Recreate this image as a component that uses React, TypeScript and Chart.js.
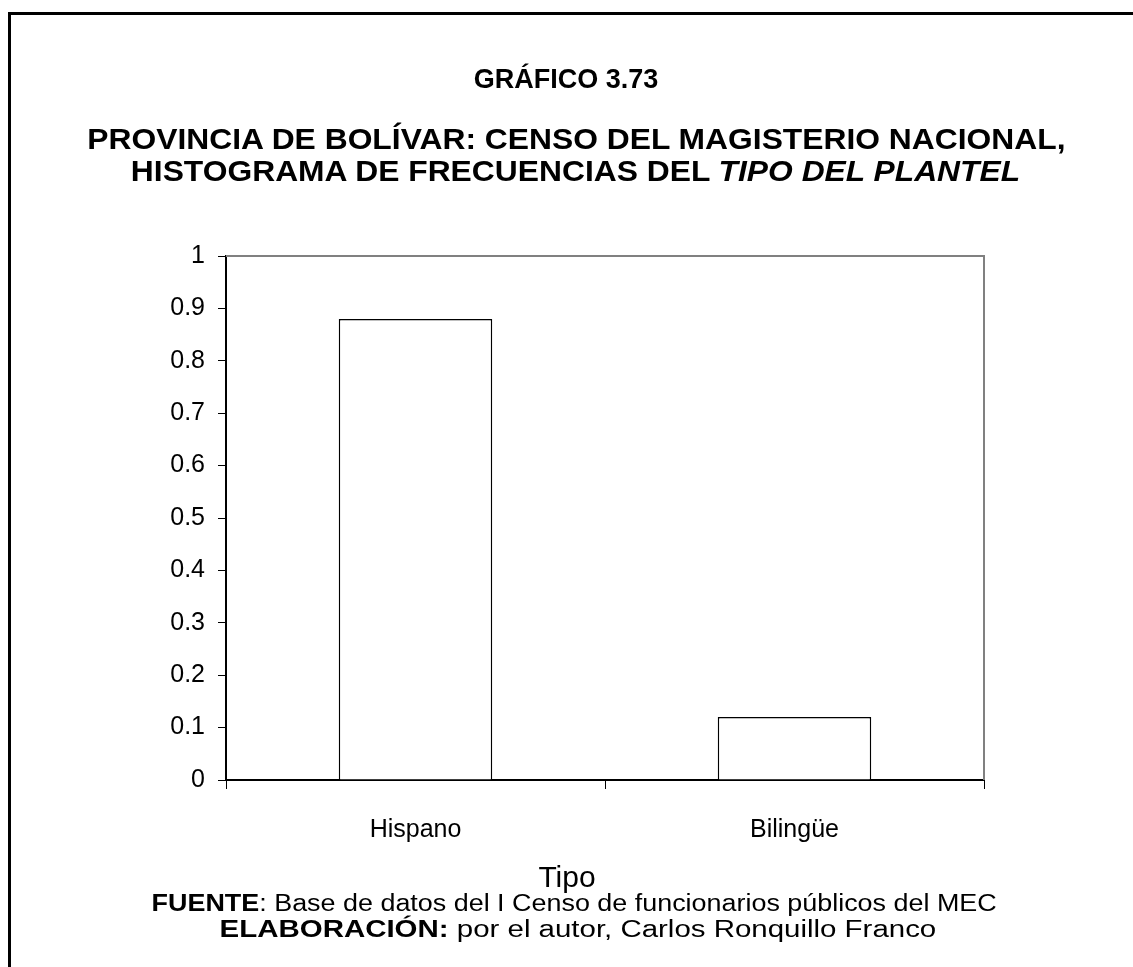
import React, { useEffect, useRef } from "react";
import { Chart, registerables } from "chart.js";

Chart.register(...registerables);

const categories: string[] = ["Hispano", "Bilingüe"];
const frequencies: number[] = [0.88, 0.12];
const yTickLabels: string[] = ["0", "0.1", "0.2", "0.3", "0.4", "0.5", "0.6", "0.7", "0.8", "0.9", "1"];
const xAxisTitle = "Tipo";
const titleLine1 = "GRÁFICO 3.73";
const titleLine2 = "PROVINCIA DE BOLÍVAR: CENSO DEL MAGISTERIO NACIONAL,";
const titleLine3a = "HISTOGRAMA DE FRECUENCIAS DEL ";
const titleLine3b = "TIPO DEL PLANTEL";

const FONT = "'Liberation Sans', Arial, Helvetica, sans-serif";

const W = 1133;
const H = 967;
const PLOT_LEFT = 226;
const PLOT_RIGHT = 984;
const PLOT_TOP = 256;
const PLOT_BOTTOM = 780;
const X_AXIS_H = 70;

const frameBorderPlugin = {
  id: "frameBorder",
  afterDatasetsDraw(chart: any) {
    const { ctx, chartArea } = chart;
    ctx.save();
    ctx.strokeStyle = "#808080";
    ctx.lineWidth = 2;
    ctx.beginPath();
    ctx.moveTo(chartArea.left, chartArea.top);
    ctx.lineTo(chartArea.right, chartArea.top);
    ctx.lineTo(chartArea.right, chartArea.bottom);
    ctx.stroke();
    ctx.restore();
  },
};

function TextLine(props: {
  center: number;
  cx?: number;
  size: number;
  scale: number;
  children: React.ReactNode;
  bold?: boolean;
}) {
  const { center, size, scale, children, bold } = props;
  const cx = props.cx ?? 575;
  return (
    <div
      style={{
        position: "absolute",
        left: cx - 600,
        width: 1200,
        top: center - size / 2,
        height: size,
        lineHeight: `${size}px`,
        fontSize: size,
        fontFamily: FONT,
        fontWeight: bold ? "bold" : "normal",
        textAlign: "center",
        whiteSpace: "nowrap",
        color: "#000",
      }}
    >
      <span style={{ display: "inline-block", transform: `scaleX(${scale})`, transformOrigin: "center" }}>{children}</span>
    </div>
  );
}

export default function App() {
  const canvasRef = useRef<HTMLCanvasElement | null>(null);

  useEffect(() => {
    if (!canvasRef.current) return;
    const chart = new Chart(canvasRef.current, {
      type: "bar",
      data: {
        labels: categories,
        datasets: [
          {
            data: frequencies,
            backgroundColor: "#ffffff",
            borderColor: "#000000",
            borderWidth: 1.5,
            categoryPercentage: 1,
            barPercentage: 0.405,
          },
        ],
      },
      options: {
        animation: false,
        responsive: false,
        maintainAspectRatio: false,
        events: [],
        layout: {
          padding: {
            left: 0,
            top: PLOT_TOP,
            right: W - PLOT_RIGHT,
            bottom: H - PLOT_BOTTOM - X_AXIS_H,
          },
        },
        plugins: {
          legend: { display: false },
          tooltip: { enabled: false },
          title: { display: false },
        },
        scales: {
          x: {
            type: "category",
            offset: true,
            grid: {
              offset: true,
              drawOnChartArea: false,
              drawTicks: true,
              tickLength: 9,
              color: "#000",
              lineWidth: 1,
            },
            border: { display: true, color: "#000", width: 2 },
            ticks: {
              color: "#000",
              font: { family: FONT, size: 25 },
              padding: 26,
              maxRotation: 0,
              autoSkip: false,
            },
            title: { display: false },
            afterFit(scale: any) {
              scale.height = X_AXIS_H;
            },
          },
          y: {
            type: "linear",
            min: 0,
            max: 1,
            grid: {
              drawOnChartArea: false,
              drawTicks: true,
              tickLength: 8,
              color: "#000",
              lineWidth: 1,
            },
            border: { display: true, color: "#000", width: 2 },
            ticks: {
              stepSize: 0.1,
              color: "#000",
              font: { family: FONT, size: 25 },
              padding: 13,
              callback: (_v: any, i: number) => yTickLabels[i],
            },
            afterFit(scale: any) {
              scale.width = PLOT_LEFT;
            },
          },
        },
      },
      plugins: [frameBorderPlugin],
    });
    return () => chart.destroy();
  }, []);

  return (
    <div
      style={{
        position: "fixed",
        left: 0,
        top: 0,
        width: W,
        height: H,
        overflow: "hidden",
        background: "#fff",
      }}
    >
      <div
        style={{
          position: "absolute",
          left: 8,
          top: 12,
          width: 1200,
          height: 1100,
          borderLeft: "3px solid #000",
          borderTop: "3px solid #000",
        }}
      />
      <canvas ref={canvasRef} width={W} height={H} style={{ position: "absolute", left: 0, top: 0, width: W, height: H }} />
      <TextLine center={79} cx={566} size={27} scale={1.0} bold>
        {titleLine1}
      </TextLine>
      <TextLine center={139} cx={576} size={30} scale={1.06} bold>
        {titleLine2}
      </TextLine>
      <TextLine center={171} cx={575} size={30} scale={1.06} bold>
        {titleLine3a}
        <i>{titleLine3b}</i>
      </TextLine>
      <TextLine center={877} cx={567} size={30} scale={1.0}>
        {xAxisTitle}
      </TextLine>
      <TextLine center={903} cx={574} size={23} scale={1.17}>
        <b>FUENTE</b>: Base de datos del I Censo de funcionarios públicos del MEC
      </TextLine>
      <TextLine center={929} cx={578} size={23} scale={1.28}>
        <b>ELABORACIÓN:</b> por el autor, Carlos Ronquillo Franco
      </TextLine>
    </div>
  );
}
